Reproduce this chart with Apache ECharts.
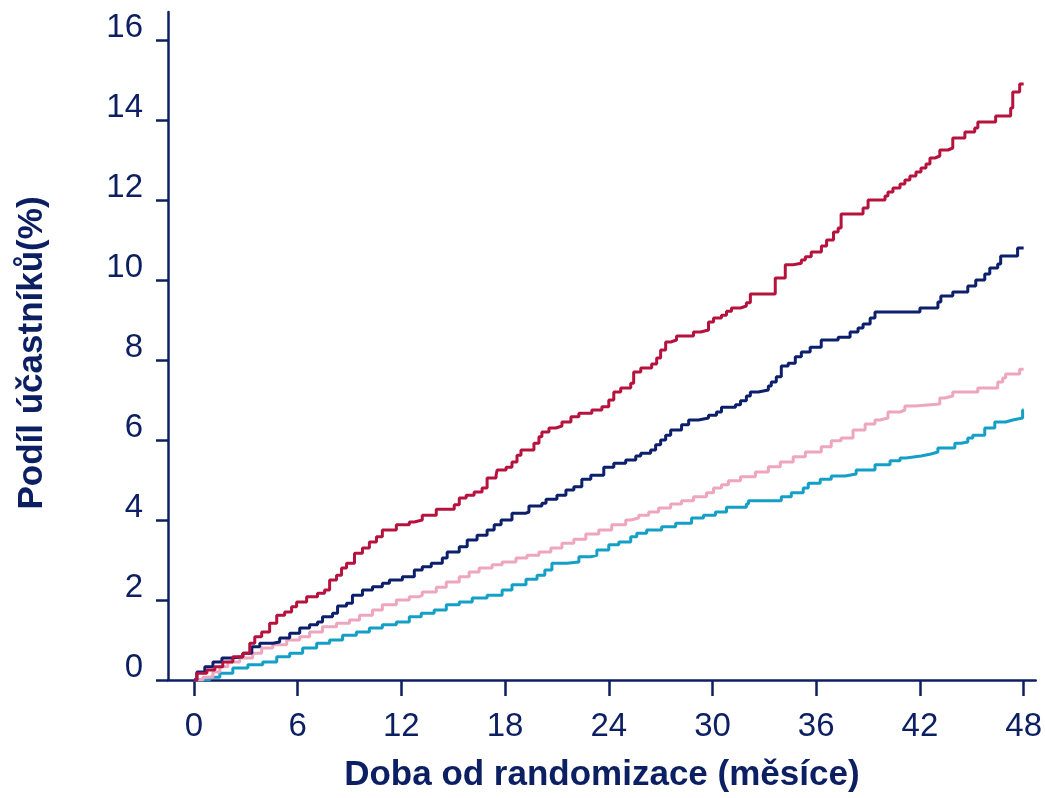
<!DOCTYPE html>
<html>
<head>
<meta charset="utf-8">
<script src="https://cdn.jsdelivr.net/npm/echarts@6/dist/echarts.min.js"></script>
<style>html,body{margin:0;padding:0;background:#fff}#c{width:1045px;height:798px}</style>
</head>
<body>
<div id="c"></div>
<script>
const xTicks = [0, 6, 12, 18, 24, 30, 36, 42, 48];
const yTicks = [0, 2, 4, 6, 8, 10, 12, 14, 16];
const xTitle = 'Doba od randomizace (měsíce)';
const yTitle = 'Podíl účastníků(%)';

const redSeries = [[0,0],[0.17,0.17],[0.75,0.25],[1.21,0.33],[1.67,0.45],[2.25,0.58],[2.83,0.67],[3.23,0.92],[3.52,1.08],[3.92,1.2],[4.38,1.42],[4.79,1.62],[5.25,1.7],[5.65,1.83],[5.94,1.95],[6.52,2.08],[7.15,2.17],[7.56,2.25],[7.85,2.5],[8.25,2.62],[8.54,2.8],[8.83,2.92],[9.29,3.17],[9.75,3.3],[10.15,3.45],[10.56,3.58],[10.9,3.75],[11.71,3.88],[12.46,3.95],[12.75,4.0],[13.21,4.12],[14.02,4.27],[15.06,4.38],[15.35,4.55],[15.75,4.62],[16.21,4.7],[16.67,4.8],[16.96,5.05],[17.48,5.12],[17.54,5.25],[18.06,5.32],[18.4,5.45],[18.69,5.62],[18.92,5.75],[19.67,5.92],[19.96,6.08],[20.13,6.2],[20.54,6.3],[20.94,6.35],[21.29,6.45],[21.81,6.58],[22.27,6.67],[23.02,6.75],[23.6,6.83],[24.0,7.0],[24.29,7.2],[24.69,7.3],[25.27,7.42],[25.44,7.7],[25.85,7.8],[26.48,7.9],[26.77,8.05],[27.0,8.25],[27.29,8.45],[27.58,8.5],[27.92,8.6],[28.9,8.7],[29.31,8.75],[29.77,8.95],[30.06,9.05],[30.52,9.12],[30.81,9.22],[31.1,9.3],[31.62,9.35],[31.96,9.43],[32.19,9.65],[33.63,10.05],[34.21,10.38],[34.67,10.42],[35.14,10.5],[35.37,10.58],[35.71,10.7],[36.3,10.85],[36.6,11.0],[37.0,11.2],[37.27,11.3],[37.44,11.65],[38.71,11.8],[39.0,12.0],[39.98,12.1],[40.15,12.2],[40.44,12.3],[40.85,12.4],[41.13,12.5],[41.42,12.6],[41.77,12.7],[42.06,12.8],[42.35,12.9],[42.58,13.05],[42.87,13.1],[43.15,13.25],[43.62,13.3],[43.9,13.55],[44.6,13.7],[45.17,13.8],[45.35,13.95],[46.38,14.1],[47.25,14.3],[47.37,14.7],[47.77,14.9],[48,14.9]];

const navySeries = [[0,0],[0.17,0.2],[0.63,0.33],[1.1,0.45],[1.62,0.55],[2.19,0.58],[2.83,0.67],[3.35,0.83],[3.81,0.92],[4.56,0.95],[4.96,1.05],[5.54,1.17],[6.12,1.3],[6.69,1.38],[7.15,1.45],[7.44,1.58],[8.02,1.67],[8.31,1.85],[8.83,1.92],[9.17,2.12],[9.75,2.25],[10.33,2.33],[10.9,2.42],[11.31,2.5],[12.06,2.58],[12.75,2.75],[13.21,2.83],[13.73,2.92],[14.37,3.05],[14.65,3.2],[15.35,3.33],[15.81,3.5],[16.38,3.62],[16.96,3.75],[17.37,3.88],[17.77,4.0],[18.4,4.17],[19.21,4.2],[19.38,4.35],[20.13,4.42],[20.37,4.52],[21.0,4.62],[21.52,4.75],[21.98,4.83],[22.44,5.02],[22.96,5.12],[23.71,5.32],[24.29,5.42],[24.98,5.5],[25.56,5.6],[25.85,5.67],[26.42,5.75],[26.71,5.88],[27.0,6.0],[27.29,6.12],[27.58,6.25],[28.21,6.38],[28.62,6.5],[29.19,6.55],[29.77,6.62],[30.23,6.7],[30.52,6.82],[31.33,6.88],[31.62,6.98],[31.96,7.1],[32.19,7.2],[32.65,7.25],[33.23,7.35],[33.4,7.45],[33.69,7.58],[33.98,7.85],[34.38,7.92],[34.79,8.08],[35.14,8.2],[35.65,8.32],[36.29,8.5],[37.27,8.57],[37.96,8.7],[38.42,8.8],[38.71,8.9],[39.12,9.05],[39.4,9.2],[42.0,9.3],[43.04,9.45],[43.21,9.6],[43.9,9.7],[44.77,9.85],[45.23,10.0],[45.75,10.15],[46.04,10.3],[46.5,10.4],[46.67,10.6],[47.65,10.8],[48,10.8]];

const pinkSeries = [[0,0],[0.52,0.07],[1.1,0.2],[1.5,0.33],[1.96,0.45],[2.65,0.55],[3.4,0.67],[3.92,0.8],[4.56,0.88],[5.37,1.0],[6.12,1.08],[6.69,1.2],[7.44,1.33],[8.25,1.42],[9.0,1.5],[9.58,1.62],[10.33,1.75],[10.9,1.88],[11.71,2.0],[12.46,2.08],[13.04,2.12],[13.21,2.2],[14.02,2.32],[14.6,2.45],[15.35,2.58],[15.92,2.7],[16.5,2.8],[17.25,2.88],[17.83,2.95],[18.63,3.05],[19.27,3.12],[19.96,3.2],[20.65,3.3],[21.29,3.42],[21.98,3.52],[22.67,3.65],[23.42,3.75],[24.17,3.88],[24.98,4.0],[25.27,4.05],[25.73,4.12],[26.31,4.2],[26.88,4.3],[27.58,4.4],[28.21,4.48],[28.9,4.58],[29.65,4.68],[30.06,4.8],[30.52,4.88],[30.92,4.98],[31.62,5.08],[32.48,5.2],[33.23,5.33],[33.92,5.45],[34.67,5.58],[35.37,5.7],[36.29,5.83],[36.87,5.98],[37.44,6.05],[38.13,6.25],[38.83,6.4],[39.4,6.5],[39.69,6.55],[40.15,6.7],[40.85,6.75],[41.13,6.85],[41.71,6.9],[43.15,7.05],[43.44,7.1],[43.9,7.2],[45.35,7.3],[46.5,7.45],[46.79,7.55],[46.96,7.65],[47.77,7.77],[48,7.77]];

const tealSeries = [[0,0],[0.92,0.07],[1.5,0.17],[2.25,0.3],[3.12,0.38],[3.98,0.45],[4.79,0.58],[5.54,0.67],[6.29,0.8],[7.1,0.92],[7.85,1.0],[8.6,1.12],[9.4,1.2],[10.15,1.3],[10.9,1.38],[11.71,1.45],[12.46,1.58],[13.15,1.67],[13.9,1.75],[14.6,1.88],[15.35,1.95],[16.1,2.05],[16.96,2.12],[17.83,2.25],[18.4,2.38],[19.21,2.52],[19.85,2.62],[20.3,2.75],[20.71,2.92],[21.58,2.95],[22.27,3.08],[22.96,3.12],[23.31,3.25],[24.0,3.38],[24.58,3.45],[25.27,3.58],[25.62,3.67],[26.19,3.75],[27.06,3.83],[27.87,3.92],[28.79,4.05],[29.48,4.12],[30.17,4.2],[30.81,4.32],[31.96,4.4],[32.08,4.48],[33.98,4.58],[34.56,4.68],[35.25,4.8],[35.54,4.92],[36.23,5.02],[36.87,5.1],[37.67,5.15],[38.31,5.25],[39.4,5.38],[40.27,5.48],[40.85,5.55],[41.19,5.6],[42.06,5.65],[42.64,5.7],[43.04,5.8],[44.02,5.92],[44.37,5.95],[44.77,6.05],[45.06,6.12],[45.75,6.3],[46.33,6.45],[46.96,6.5],[47.37,6.55],[47.94,6.75],[48,6.75]];

const ink = '#0c1f62';
const font = '"Liberation Sans", Arial, sans-serif';

const chart = echarts.init(document.getElementById('c'), null, {renderer: 'canvas'});
function mkSeries(name, data, color) {
  return {name, type: 'line', step: 'end', data, showSymbol: false, symbol: 'none',
    lineStyle: {color, width: 3}, itemStyle: {color}, silent: true};
}
chart.setOption({
  animation: false,
  backgroundColor: '#fff',
  grid: {left: 168, right: 7, top: 12, bottom: 118, containLabel: false},
  xAxis: {
    type: 'value', min: -1.5, max: 48.7,
    name: xTitle, nameLocation: 'middle', nameGap: 78,
    nameTextStyle: {color: ink, fontSize: 35, fontWeight: 'bold', fontFamily: font},
    axisLine: {onZero: false, lineStyle: {color: ink, width: 2.5}},
    axisTick: {show: true, length: 16, customValues: xTicks, lineStyle: {color: ink, width: 2.5}},
    axisLabel: {customValues: xTicks, margin: 30, color: ink, fontSize: 33, fontFamily: font},
    splitLine: {show: false}
  },
  yAxis: {
    type: 'value', min: 0, max: 16.7,
    name: yTitle, nameLocation: 'middle', nameGap: 118, nameRotate: 90,
    nameTextStyle: {color: ink, fontSize: 35, fontWeight: 'bold', fontFamily: font, padding: [0, 14, 0, 0]},
    axisLine: {show: true, onZero: false, lineStyle: {color: ink, width: 2.5}},
    axisTick: {show: true, length: 12, customValues: yTicks, lineStyle: {color: ink, width: 2.5}},
    axisLabel: {customValues: yTicks, margin: 25, color: ink, fontSize: 33, fontFamily: font, verticalAlign: 'bottom', lineHeight: 24},
    splitLine: {show: false}
  },
  series: [
    mkSeries('teal', tealSeries, '#14a0c6'),
    mkSeries('pink', pinkSeries, '#eea6bf'),
    mkSeries('navy', navySeries, '#0c1f6b'),
    mkSeries('red', redSeries, '#b5123e')
  ]
});
</script>
</body>
</html>
